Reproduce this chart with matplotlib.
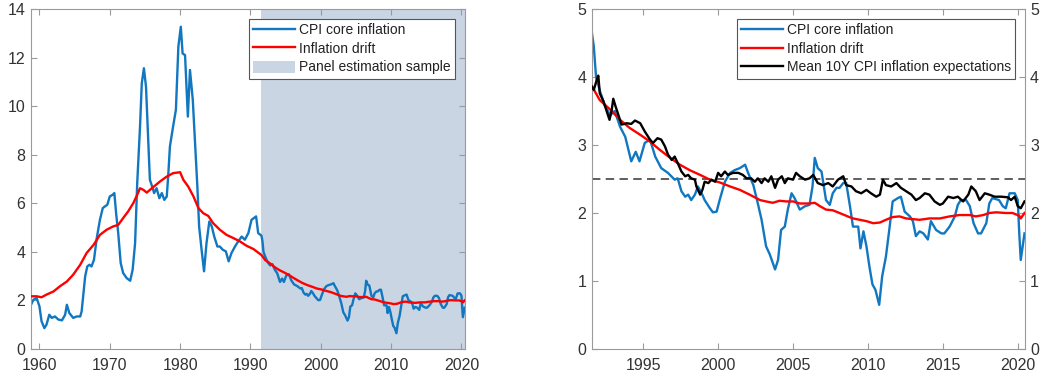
import matplotlib
matplotlib.use("Agg")
import matplotlib.pyplot as plt
import numpy as np

# ---------------- data ----------------
core_years = [1958.8, 1959.15, 1959.6, 1960.0, 1960.3, 1960.7, 1961.0, 1961.4, 1961.75, 1962.2,
              1962.7, 1963.2, 1963.65, 1963.9, 1964.25, 1964.8, 1965.3, 1965.8, 1966.0, 1966.5,
              1966.8, 1967.1, 1967.4, 1967.75, 1968.15, 1968.6, 1969.0, 1969.3, 1969.65, 1970.0,
              1970.4, 1970.65, 1970.9, 1971.2, 1971.55, 1971.9, 1972.4, 1972.9, 1973.25, 1973.6,
              1973.9, 1974.3, 1974.55, 1974.85, 1975.15, 1975.5, 1975.7, 1976.1, 1976.3, 1976.65,
              1977.05, 1977.4, 1977.75, 1978.1, 1978.3, 1978.55, 1979.0, 1979.4, 1979.75, 1980.1,
              1980.35, 1980.7, 1981.1, 1981.4, 1981.8, 1982.1, 1982.45, 1982.7, 1983.05, 1983.4,
              1983.75, 1984.15, 1984.5, 1984.85, 1985.3, 1985.65, 1986.05, 1986.5, 1986.9, 1987.3,
              1987.8, 1988.25, 1988.75, 1989.2, 1989.7, 1990.15, 1990.8, 1991.1,
              1991.56, 1991.7, 1991.85, 1992.1, 1992.45, 1992.8, 1993.1, 1993.45, 1993.8, 1994.2,
              1994.5, 1994.75, 1995.1, 1995.45, 1995.8, 1996.2, 1996.65, 1997.1, 1997.3, 1997.55,
              1997.8, 1998.0, 1998.2, 1998.45, 1998.65, 1998.9, 1999.1, 1999.45, 1999.65, 1999.9,
              2000.1, 2000.45, 2000.8, 2001.1, 2001.45, 2001.8, 2002.0, 2002.35, 2002.65, 2002.9,
              2003.2, 2003.45, 2003.8, 2004.0, 2004.2, 2004.45, 2004.65, 2004.9, 2005.1, 2005.45,
              2005.8, 2006.1, 2006.3, 2006.45, 2006.65, 2006.9, 2007.2, 2007.45, 2007.65, 2007.9,
              2008.1, 2008.35, 2008.55, 2008.8, 2009.0, 2009.2, 2009.35, 2009.5, 2009.7, 2009.9,
              2010.1, 2010.3, 2010.5, 2010.75, 2010.95, 2011.2, 2011.45, 2011.65, 2012.0, 2012.2,
              2012.45, 2012.8, 2013.0, 2013.2, 2013.45, 2013.7, 2014.0, 2014.2, 2014.55, 2014.9,
              2015.1, 2015.45, 2015.8, 2016.0, 2016.2, 2016.55, 2016.8, 2017.05, 2017.35, 2017.55,
              2017.9, 2018.1, 2018.3, 2018.75, 2019.0, 2019.2, 2019.45, 2019.8, 2020.0, 2020.1,
              2020.2, 2020.45]
core_vals = [1.82, 2.03, 2.10, 1.76, 1.14, 0.86, 1.00, 1.41, 1.28, 1.34,
             1.21, 1.18, 1.41, 1.82, 1.48, 1.28, 1.34, 1.34, 1.55, 2.99,
             3.40, 3.47, 3.40, 3.67, 4.57, 5.32, 5.80, 5.87, 5.94, 6.28,
             6.35, 6.42, 5.59, 4.77, 3.54, 3.13, 2.92, 2.81, 3.26, 4.36,
             6.83, 9.16, 10.94, 11.56, 10.80, 8.34, 6.97, 6.62, 6.42, 6.62,
             6.21, 6.42, 6.14, 6.28, 7.10, 8.34, 9.16, 9.85, 12.45, 13.27,
             12.17, 12.10, 9.57, 11.49, 10.26, 8.61, 6.69, 5.05, 4.09, 3.20,
             4.36, 5.25, 5.05, 4.63, 4.22, 4.22, 4.09, 4.02, 3.61, 3.95,
             4.22, 4.43, 4.63, 4.50, 4.77, 5.32, 5.46, 4.77,
             4.67, 4.45, 4.00, 3.80, 3.57, 3.44, 3.50, 3.27, 3.12, 2.76,
             2.90, 2.76, 3.03, 3.08, 2.83, 2.66, 2.59, 2.49, 2.51, 2.32,
             2.24, 2.27, 2.19, 2.27, 2.39, 2.29, 2.19, 2.07, 2.01, 2.02,
             2.19, 2.46, 2.59, 2.63, 2.66, 2.71, 2.59, 2.41, 2.14, 1.90,
             1.51, 1.39, 1.17, 1.31, 1.75, 1.80, 2.05, 2.29, 2.22, 2.05,
             2.10, 2.12, 2.39, 2.81, 2.66, 2.61, 2.19, 2.12, 2.29, 2.37,
             2.37, 2.44, 2.44, 2.10, 1.80, 1.80, 1.80, 1.48, 1.73, 1.51,
             1.21, 0.95, 0.87, 0.65, 1.07, 1.36, 1.80, 2.17, 2.22, 2.24,
             2.02, 1.95, 1.88, 1.66, 1.73, 1.70, 1.61, 1.88, 1.75, 1.70,
             1.70, 1.80, 1.95, 2.12, 2.19, 2.19, 2.10, 1.85, 1.70, 1.70,
             1.85, 2.14, 2.22, 2.19, 2.10, 2.07, 2.29, 2.29, 2.19, 1.70,
             1.31, 1.70]

drift_years = [1958.8, 1959.6, 1960.3, 1961.0, 1962.0, 1962.9, 1963.9, 1964.8, 1965.8, 1966.7,
               1967.7, 1968.6, 1969.55, 1970.5, 1971.2, 1971.9, 1972.6, 1973.35, 1973.9, 1974.3,
               1974.8, 1975.25, 1975.7, 1976.4, 1977.15, 1978.1, 1979.0, 1980.0, 1980.45, 1981.15,
               1981.9, 1982.6, 1983.3, 1984.0, 1984.7, 1985.65, 1986.6, 1987.55, 1988.5, 1989.45,
               1990.4, 1991.1,
               1991.56, 1992.1, 1992.8, 1993.45, 1994.1, 1994.8, 1995.45, 1996.1, 1996.8, 1997.45,
               1998.1, 1998.8, 1999.45, 2000.1, 2000.8, 2001.45, 2002.1, 2002.8, 2003.2, 2003.65,
               2004.1, 2004.55, 2005.0, 2005.45, 2006.1, 2006.45, 2006.8, 2007.2, 2007.65, 2008.1,
               2008.65, 2009.0, 2009.45, 2009.9, 2010.35, 2010.8, 2011.2, 2011.65, 2012.1, 2012.55,
               2013.0, 2013.45, 2014.1, 2014.8, 2015.45, 2016.1, 2016.8, 2017.2, 2017.7, 2018.1,
               2018.55, 2019.2, 2019.65, 2020.1, 2020.2, 2020.45]
drift_vals = [2.17, 2.17, 2.13, 2.24, 2.37, 2.58, 2.78, 3.06, 3.47, 3.95,
              4.29, 4.70, 4.91, 5.05, 5.11, 5.39, 5.66, 6.01, 6.35, 6.62,
              6.55, 6.44, 6.55, 6.72, 6.90, 7.10, 7.24, 7.28, 6.97, 6.69,
              6.28, 5.80, 5.59, 5.48, 5.18, 4.91, 4.70, 4.57, 4.43, 4.25,
              4.12, 3.97,
              3.87, 3.66, 3.52, 3.37, 3.25, 3.15, 3.05, 2.93, 2.81, 2.71,
              2.63, 2.56, 2.49, 2.45, 2.39, 2.34, 2.27, 2.19, 2.17, 2.15,
              2.18, 2.17, 2.17, 2.14, 2.14, 2.15, 2.10, 2.05, 2.04, 2.00,
              1.95, 1.92, 1.90, 1.88, 1.85, 1.86, 1.90, 1.94, 1.95, 1.92,
              1.91, 1.90, 1.92, 1.92, 1.95, 1.97, 1.97, 1.95, 1.97, 2.00,
              2.01, 2.00, 2.00, 1.96, 1.92, 2.00]

expect_years = [1991.56, 1991.7, 1991.9, 1992.0, 1992.1, 1992.35, 1992.6, 1992.75, 1992.9, 1993.0,
                1993.15, 1993.3, 1993.55, 1993.9, 1994.2, 1994.45, 1994.8, 1995.1, 1995.45, 1995.65,
                1995.95, 1996.2, 1996.45, 1996.65, 1996.9, 1997.1, 1997.35, 1997.55, 1997.8, 1998.0,
                1998.2, 1998.45, 1998.55, 1998.8, 1998.95, 1999.1, 1999.35, 1999.55, 1999.8, 2000.0,
                2000.2, 2000.45, 2000.65, 2001.0, 2001.35, 2001.65, 2001.9, 2002.2, 2002.45, 2002.65,
                2002.9, 2003.1, 2003.35, 2003.55, 2003.8, 2004.0, 2004.25, 2004.45, 2004.65, 2005.0,
                2005.2, 2005.45, 2005.8, 2006.1, 2006.35, 2006.65, 2007.0, 2007.35, 2007.65, 2008.0,
                2008.35, 2008.55, 2008.9, 2009.2, 2009.55, 2009.9, 2010.2, 2010.55, 2010.8, 2011.0,
                2011.2, 2011.55, 2011.9, 2012.2, 2012.55, 2012.9, 2013.2, 2013.45, 2013.8, 2014.1,
                2014.45, 2014.8, 2015.0, 2015.35, 2015.7, 2016.0, 2016.35, 2016.7, 2016.9, 2017.2,
                2017.45, 2017.8, 2018.1, 2018.45, 2018.9, 2019.35, 2019.55, 2019.8, 2020.0, 2020.2,
                2020.45]
expect_vals = [3.86, 3.81, 3.96, 4.02, 3.76, 3.64, 3.47, 3.37, 3.52, 3.68,
               3.57, 3.47, 3.30, 3.32, 3.31, 3.36, 3.32, 3.20, 3.08, 3.03,
               3.10, 3.08, 2.98, 2.86, 2.78, 2.83, 2.71, 2.61, 2.54, 2.56,
               2.51, 2.49, 2.39, 2.27, 2.34, 2.46, 2.44, 2.49, 2.46, 2.59,
               2.54, 2.61, 2.56, 2.59, 2.59, 2.56, 2.51, 2.51, 2.46, 2.51,
               2.44, 2.51, 2.46, 2.54, 2.37, 2.49, 2.54, 2.44, 2.51, 2.49,
               2.59, 2.54, 2.49, 2.51, 2.56, 2.44, 2.41, 2.44, 2.39, 2.49,
               2.54, 2.41, 2.39, 2.32, 2.29, 2.34, 2.29, 2.24, 2.27, 2.49,
               2.41, 2.39, 2.44, 2.37, 2.32, 2.27, 2.19, 2.22, 2.29, 2.27,
               2.17, 2.12, 2.14, 2.24, 2.22, 2.24, 2.17, 2.27, 2.39, 2.32,
               2.19, 2.29, 2.27, 2.24, 2.24, 2.23, 2.19, 2.24, 2.10, 2.07,
               2.17]

target_level = 2.5
sample_start = 1991.45

left_xticks = [1960, 1970, 1980, 1990, 2000, 2010, 2020]
left_yticks = [0, 2, 4, 6, 8, 10, 12, 14]
right_xticks = [1995, 2000, 2005, 2010, 2015, 2020]
right_yticks = [0, 1, 2, 3, 4, 5]

labels_left = ["CPI core inflation", "Inflation drift", "Panel estimation sample"]
labels_right = ["CPI core inflation", "Inflation drift", "Mean 10Y CPI inflation expectations"]

# ---------------- styling ----------------
BLUE = "#1177C0"
RED = "#FF0000"
SHADE = "#CAD5E3"
SPINE = "#9a9a9a"
TXT = "#333333"

plt.rcParams["font.family"] = ["Liberation Sans", "DejaVu Sans"]
plt.rcParams["font.size"] = 10

fig = plt.figure(figsize=(10.4, 3.81), dpi=100)
W, H = 1040, 381
axL = fig.add_axes([31 / W, 1 - 349 / H, (465 - 31) / W, 340 / H])
axR = fig.add_axes([591.7 / W, 1 - 349 / H, (1024.5 - 591.7) / W, 340 / H])


def style(ax):
    for s in ax.spines.values():
        s.set_color(SPINE)
        s.set_linewidth(0.8)
    ax.tick_params(direction="in", length=4, width=0.8, color=SPINE,
                   labelcolor=TXT, labelsize=11.5, top=True, right=True)
    ax.tick_params(axis="x", pad=6.5)
    ax.tick_params(axis="y", pad=4)


LEG_KW = dict(loc="upper right", borderaxespad=0, fancybox=False, framealpha=1,
              edgecolor="#555555", fontsize=10, handlelength=3.0, handletextpad=0.3,
              labelspacing=0.33, borderpad=0.3)

# Left panel
xmax = 2020.5
span = axL.axvspan(sample_start, xmax, color=SHADE, lw=0, zorder=0, label=labels_left[2])
l1, = axL.plot(core_years, core_vals, color=BLUE, lw=1.7, label=labels_left[0], zorder=2)
l2, = axL.plot(drift_years, drift_vals, color=RED, lw=1.7, label=labels_left[1], zorder=3)
axL.set_xlim(1958.8, xmax)
axL.set_ylim(0, 14)
axL.set_xticks(left_xticks)
axL.set_yticks(left_yticks)
style(axL)
legL = axL.legend(handles=[l1, l2, span], labels=labels_left,
                  bbox_to_anchor=((455 - 31) / 434, (349 - 19) / 340),
                  handleheight=0.95, **LEG_KW)
legL.get_frame().set_linewidth(0.8)
for t in legL.get_texts():
    t.set_color("#222222")

# Right panel
r1, = axR.plot(core_years, core_vals, color=BLUE, lw=1.7, label=labels_right[0], zorder=2)
r2, = axR.plot(drift_years, drift_vals, color=RED, lw=1.7, label=labels_right[1], zorder=3)
r3, = axR.plot(expect_years, expect_vals, color="black", lw=1.7, label=labels_right[2], zorder=4)
axR.axhline(target_level, color="#333333", lw=1.1, dashes=(5.5, 3.5), zorder=1)
axR.set_xlim(1991.56, 2020.45)
axR.set_ylim(0, 5)
axR.set_xticks(right_xticks)
axR.set_yticks(right_yticks)
style(axR)
axR.tick_params(labelright=True)
legR = axR.legend(handles=[r1, r2, r3], labels=labels_right,
                  bbox_to_anchor=((1015 - 591.7) / 432.8, (349 - 19) / 340), **LEG_KW)
legR.get_frame().set_linewidth(0.8)
for t in legR.get_texts():
    t.set_color("#222222")

fig.savefig("out.png", dpi=100)
